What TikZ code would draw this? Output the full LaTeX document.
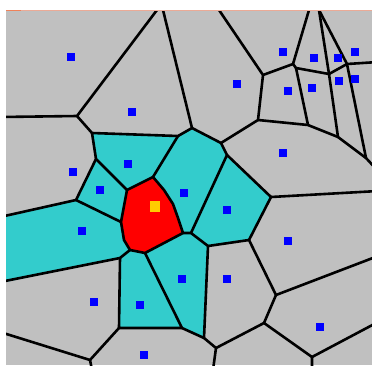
\documentclass[tikz,border=0pt]{standalone}
\definecolor{vgray}{RGB}{192,192,192}
\definecolor{vteal}{RGB}{51,204,204}
\definecolor{vred}{RGB}{255,0,0}
\definecolor{vblue}{RGB}{0,0,255}
\definecolor{vgold}{RGB}{255,204,0}
\definecolor{vorange}{RGB}{240,130,90}
\definecolor{vsalmon}{RGB}{235,170,150}
\begin{document}
\begin{tikzpicture}[x=1pt,y=-1pt,
  edge/.style={line width=2.6pt,line cap=round,line join=round},
  seedbox/.style={rectangle,fill=vblue,inner sep=0pt,minimum size=7.5pt},
  goldbox/.style={rectangle,fill=vgold,inner sep=0pt,minimum width=10pt,minimum height=11pt}]
\useasboundingbox (0,0) rectangle (372,365);
\fill[white] (0,0) rectangle (372,365);
\fill[vgray] (6,10) rectangle (372,365);
% vertices
\coordinate (a1) at (157,10);
\coordinate (a2) at (163,10);
\coordinate (b) at (77,116);
\coordinate (L1) at (0,117);
\coordinate (c) at (92,133);
\coordinate (d) at (178,136);
\coordinate (e) at (192,128);
\coordinate (f) at (96,159);
\coordinate (g) at (76,200);
\coordinate (L2) at (0,217);
\coordinate (r1) at (153,177);
\coordinate (r2) at (127,190);
\coordinate (r3) at (121,222);
\coordinate (r4) at (124,240);
\coordinate (r5) at (130,250);
\coordinate (r6) at (145,253);
\coordinate (r7) at (183,233);
\coordinate (r8) at (178,218);
\coordinate (r10) at (173,204);
\coordinate (r9) at (164,190);
\coordinate (h) at (191,233);
\coordinate (i) at (227,155);
\coordinate (j) at (221,143);
\coordinate (k) at (208,246);
\coordinate (m) at (249,240);
\coordinate (n) at (271,197);
\coordinate (p) at (120,258);
\coordinate (L3) at (0,282);
\coordinate (q) at (119,328);
\coordinate (s) at (182,328);
\coordinate (t) at (204,338);
\coordinate (u) at (216,348);
\coordinate (v) at (264,323);
\coordinate (w) at (276,295);
\coordinate (xx) at (312,357);
\coordinate (L4) at (0,332);
\coordinate (yy) at (90,360);
\coordinate (B1) at (92,370);
\coordinate (B2) at (213,370);
\coordinate (B3) at (312,370);
\coordinate (R2) at (378,191);
\coordinate (R3) at (378,256);
\coordinate (R4) at (378,322);
\coordinate (R5) at (378,171);
\coordinate (R6) at (378,62);
\coordinate (T1) at (219,10);
\coordinate (T2) at (309,10);
\coordinate (T3) at (319,10);
\coordinate (aa) at (263,75);
\coordinate (bb) at (258,120);
\coordinate (cc) at (293,64);
\coordinate (dd) at (296,68);
\coordinate (ee) at (329,74);
\coordinate (ff) at (347,64);
\coordinate (gg) at (308,125);
\coordinate (hh) at (338,137);
\coordinate (ii) at (366,158);
% coloured cells
\fill[vteal] (c) -- (d) -- (r1) -- (r2) -- (f) -- cycle;
\fill[vteal] (f) -- (r2) -- (r3) -- (g) -- cycle;
\fill[vteal] (6,217) -- (g) -- (r3) -- (r4) -- (r5) -- (p) -- (6,282) -- cycle;
\fill[vteal] (d) -- (e) -- (j) -- (i) -- (h) -- (r7) -- (r8) -- (r10) -- (r9) -- (r1) -- cycle;
\fill[vteal] (h) -- (i) -- (n) -- (m) -- (k) -- cycle;
\fill[vteal] (r6) -- (r7) -- (h) -- (k) -- (t) -- (s) -- cycle;
\fill[vteal] (p) -- (r5) -- (r6) -- (s) -- (q) -- cycle;
\fill[vred] (r1) -- (r2) -- (r3) -- (r4) -- (r5) -- (r6) -- (r7) -- (r8) -- (r10) -- (r9) -- cycle;
% edges
\begin{scope}
\clip (6,10) rectangle (372,365);
\draw[edge] (a1) -- (b) -- (L1);
\draw[edge] (b) -- (c) -- (d) -- (e) -- (a2);
\draw[edge] (d) -- (r1);
\draw[edge] (c) -- (f) -- (r2);
\draw[edge] (f) -- (g) -- (L2);
\draw[edge] (g) -- (r3);
\draw[edge] (r1) -- (r2) -- (r3) -- (r4) -- (r5) -- (r6) -- (r7) -- (r8) -- (r10) -- (r9) -- cycle;
\draw[edge] (r5) -- (p) -- (L3);
\draw[edge] (p) -- (q) -- (s) -- (r6);
\draw[edge] (q) -- (yy) -- (L4);
\draw[edge] (yy) -- (B1);
\draw[edge] (s) -- (t) -- (k) -- (h) -- (r7);
\draw[edge] (t) -- (u) -- (B2);
\draw[edge] (u) -- (v) -- (xx) -- (B3);
\draw[edge] (xx) -- (R4);
\draw[edge] (v) -- (w) -- (R3);
\draw[edge] (w) -- (m) -- (k);
\draw[edge] (h) -- (i) -- (j) -- (e);
\draw[edge] (i) -- (n) -- (m);
\draw[edge] (n) -- (R2);
\draw[edge] (j) -- (bb) -- (aa) -- (T1);
\draw[edge] (aa) -- (cc) -- (T2);
\draw[edge] (cc) -- (dd) -- (ee) -- (ff);
\draw[edge] (dd) -- (gg);
\draw[edge] (bb) -- (gg) -- (hh) -- (ee) -- (T3);
\draw[edge] (T3) -- (ff) -- (R6);
\draw[edge] (ff) -- (ii) -- (R5);
\draw[edge] (hh) -- (ii);
\end{scope}
% top border
\draw[vsalmon,line width=1pt] (6,10.5) -- (372,10.5);
\draw[vorange,line width=1pt] (6,10.5) -- (21,10.5);
% seeds
\node[seedbox] (s1) at (71,57) {};
\node[seedbox] (s2) at (132,112) {};
\node[seedbox] (s3) at (128,164) {};
\node[seedbox] (s4) at (73,172) {};
\node[seedbox] (s5) at (100,190) {};
\node[seedbox] (s6) at (82,231) {};
\node[seedbox] (s7) at (184,193) {};
\node[seedbox] (s8) at (227,210) {};
\node[seedbox] (s9) at (94,302) {};
\node[seedbox] (s10) at (140,305) {};
\node[seedbox] (s11) at (144,355) {};
\node[seedbox] (s12) at (182,279) {};
\node[seedbox] (s13) at (227,279) {};
\node[seedbox] (s14) at (288,241) {};
\node[seedbox] (s15) at (320,327) {};
\node[seedbox] (s16) at (283,153) {};
\node[seedbox] (s17) at (237,84) {};
\node[seedbox] (s18) at (283,52) {};
\node[seedbox] (s19) at (314,58) {};
\node[seedbox] (s20) at (338,58) {};
\node[seedbox] (s21) at (355,52) {};
\node[seedbox] (s22) at (288,91) {};
\node[seedbox] (s23) at (312,88) {};
\node[seedbox] (s24) at (339,81) {};
\node[seedbox] (s25) at (355,79) {};
\node[goldbox] (gold) at (155,206) {};
\end{tikzpicture}
\end{document}
